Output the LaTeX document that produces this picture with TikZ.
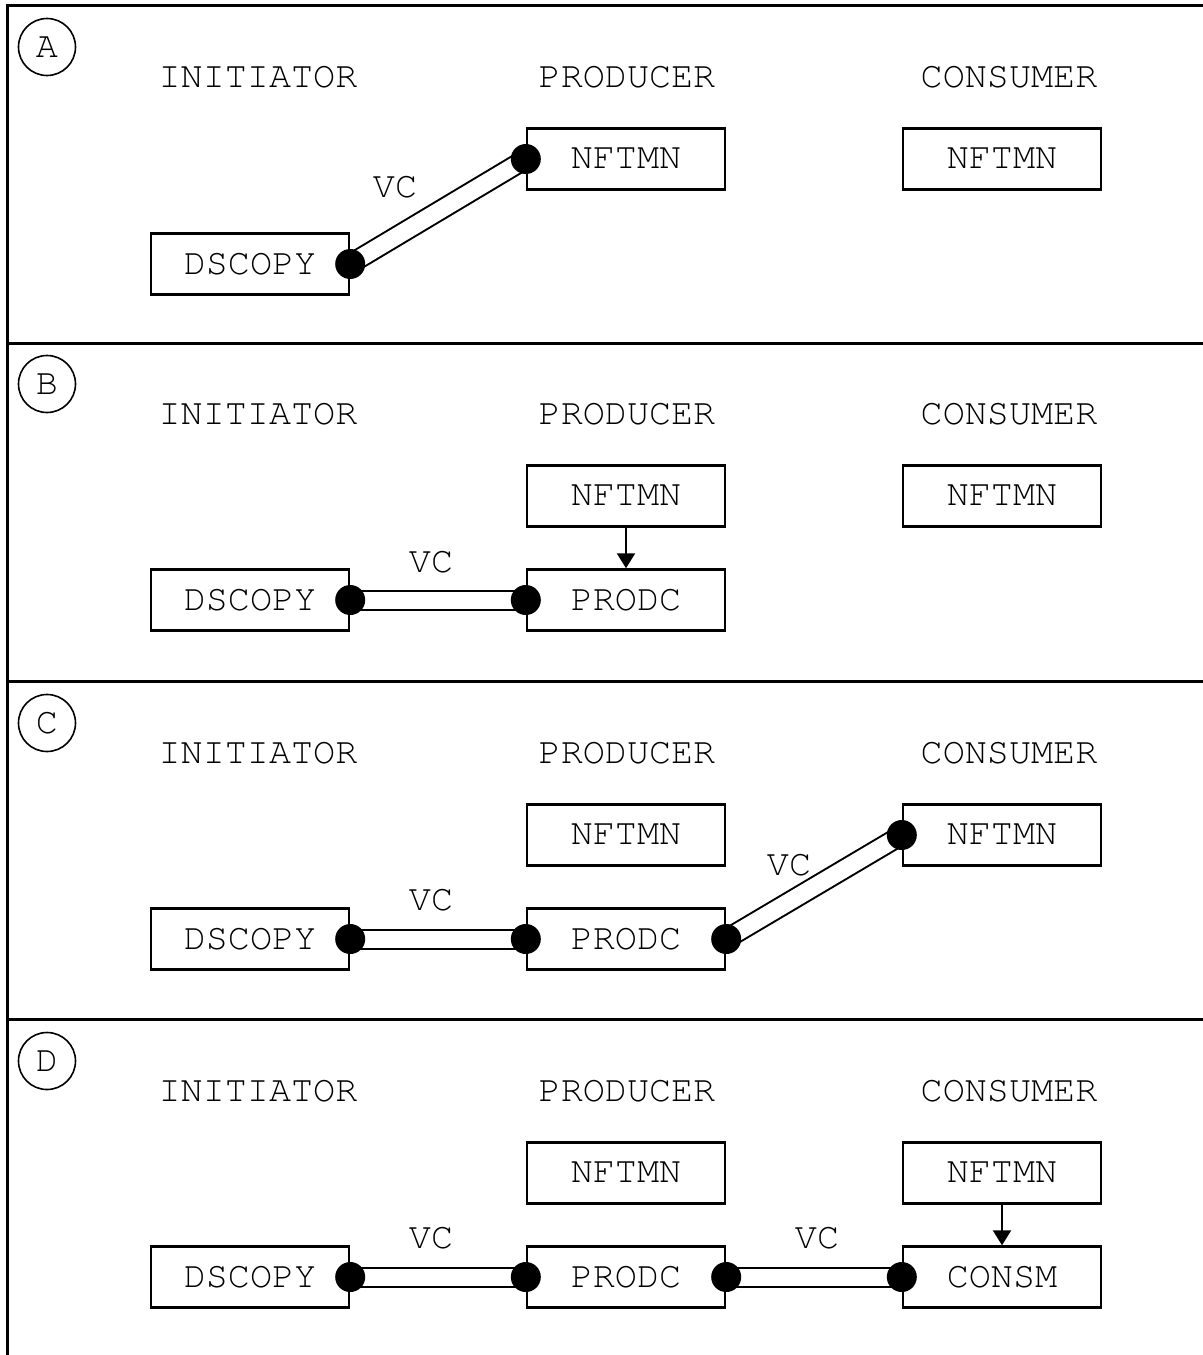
\documentclass[tikz,border=0pt]{standalone}
\usepackage[T1]{fontenc}
\usetikzlibrary{arrows.meta}
\tikzset{
  box/.style={draw, line width=1.2pt, minimum width=99pt, minimum height=30.5pt, inner sep=0pt},
  vc/.style={double, line width=1pt, double distance=8.5pt},
  frame/.style={line width=1.5pt},
  feed/.style={-{Triangle[length=7.5pt,width=9pt]}, line width=1pt}
}
\begin{document}
\begin{tikzpicture}[x=0.5pt, y=-0.5pt, font=\fontfamily{pcr}\fontsize{18.4}{20}\selectfont]
\useasboundingbox (0,0) rectangle (1203,1355);
% frame and panel separators
\draw[frame] (1203,5) -- (7,5) -- (7,1355);
\foreach \y in {343,681,1019}
\draw[frame] (7,\y) -- (1203,\y);
% panel letters and column titles
\foreach \p/\dy in {A/0,B/337,C/676,D/1014} {
  \node[draw, circle, line width=0.8pt, minimum size=28.5pt, inner sep=0pt] (lbl\p) at (47,47+\dy) {\p};
  \node (ini\p) at (258,77+\dy) {INITIATOR};
  \node (pro\p) at (627,77+\dy) {PRODUCER};
  \node (con\p) at (1009,77+\dy) {CONSUMER};
}
% A
\node[box] (nftpA) at (626,159) {NFTMN};
\node[box] (nftcA) at (1002,159) {NFTMN};
\node[box] (dscA) at (250,264) {DSCOPY};
\draw[vc] (dscA.east) -- (nftpA.west);
\fill (dscA.east) circle (7.5pt) (nftpA.west) circle (7.5pt);
\node (vcA) at (395,187) {VC};
% B
\node[box] (nftpB) at (626,496) {NFTMN};
\node[box] (nftcB) at (1002,496) {NFTMN};
\node[box] (dscB) at (250,600) {DSCOPY};
\node[box] (prdB) at (626,600) {PRODC};
\draw[feed] (nftpB.south) -- (prdB.north);
\draw[vc] (dscB.east) -- (prdB.west);
\fill (dscB.east) circle (7.5pt) (prdB.west) circle (7.5pt);
\node (vcB) at (431,562) {VC};
% C
\node[box] (nftpC) at (626,835) {NFTMN};
\node[box] (nftcC) at (1002,835) {NFTMN};
\node[box] (dscC) at (250,939) {DSCOPY};
\node[box] (prdC) at (626,939) {PRODC};
\draw[vc] (dscC.east) -- (prdC.west);
\draw[vc] (prdC.east) -- (nftcC.west);
\fill (dscC.east) circle (7.5pt) (prdC.west) circle (7.5pt)
  (prdC.east) circle (7.5pt) (nftcC.west) circle (7.5pt);
\node (vcC) at (431,900) {VC};
\node (vcCc) at (789,865) {VC};
% D
\node[box] (nftpD) at (626,1173) {NFTMN};
\node[box] (nftcD) at (1002,1173) {NFTMN};
\node[box] (dscD) at (250,1277) {DSCOPY};
\node[box] (prdD) at (626,1277) {PRODC};
\node[box] (cnsD) at (1002,1277) {CONSM};
\draw[feed] (nftcD.south) -- (cnsD.north);
\draw[vc] (dscD.east) -- (prdD.west);
\draw[vc] (prdD.east) -- (cnsD.west);
\fill (dscD.east) circle (7.5pt) (prdD.west) circle (7.5pt)
  (prdD.east) circle (7.5pt) (cnsD.west) circle (7.5pt);
\node (vcD) at (431,1238) {VC};
\node (vcDc) at (817,1238) {VC};
\end{tikzpicture}
\end{document}
